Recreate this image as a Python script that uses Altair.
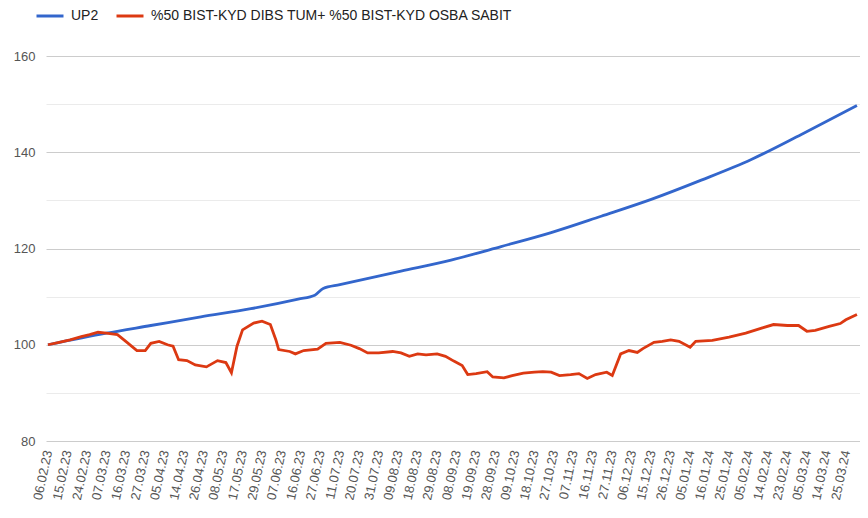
import altair as alt
import pandas as pd

tick_labels = ["06.02.23", "15.02.23", "24.02.23", "07.03.23", "16.03.23", "27.03.23",
               "05.04.23", "14.04.23", "26.04.23", "08.05.23", "17.05.23", "29.05.23",
               "07.06.23", "16.06.23", "27.06.23", "11.07.23", "20.07.23", "31.07.23",
               "09.08.23", "18.08.23", "29.08.23", "08.09.23", "19.09.23", "28.09.23",
               "09.10.23", "18.10.23", "27.10.23", "07.11.23", "16.11.23", "27.11.23",
               "06.12.23", "15.12.23", "26.12.23", "05.01.24", "16.01.24", "25.01.24",
               "05.02.24", "14.02.24", "23.02.24", "05.03.24", "14.03.24", "25.03.24"]

series_names = ["UP2", "%50 BIST-KYD DIBS TUM+ %50 BIST-KYD OSBA SABIT"]

# business-day index -> value
blue_idx = [0, 21, 37, 55, 73, 90, 96, 99, 105, 127, 145, 163, 181, 199, 217, 235, 253, 271, 291]
blue_val = [100, 102.4, 104, 105.8, 107.5, 109.5, 110.3, 111.7, 112.5, 115.3, 117.6, 120.4,
            123.3, 126.7, 130.2, 134.2, 138.5, 143.7, 149.7]

red_idx = [0, 4, 8, 12, 15, 18, 21, 25, 28, 32, 35, 37, 40, 43, 45, 47, 50, 53, 57, 61, 64, 66,
           68, 70, 74, 77, 80, 82, 83, 87, 89, 92, 97, 100, 105, 109, 112, 115, 119, 124, 127,
           130, 133, 136, 140, 143, 146, 149, 151, 154, 158, 160, 164, 167, 171, 175, 178, 181,
           184, 188, 191, 194, 197, 201, 203, 206, 209, 212, 214, 218, 221, 224, 227, 231, 233,
           239, 245, 251, 257, 261, 266, 270, 273, 276, 281, 285, 287, 291]
red_val = [100, 100.5, 101, 101.7, 102.1, 102.6, 102.4, 102.1, 100.7, 98.8, 98.8, 100.3, 100.7,
           100, 99.7, 96.9, 96.7, 95.8, 95.4, 96.7, 96.3, 94.2, 99.7, 103.1, 104.5, 104.9, 104.2,
           101, 99, 98.6, 98.1, 98.8, 99.1, 100.3, 100.5, 99.9, 99.2, 98.3, 98.3, 98.6, 98.3,
           97.6, 98.1, 97.9, 98.1, 97.6, 96.6, 95.7, 93.8, 94, 94.4, 93.3, 93.1, 93.6, 94.1,
           94.3, 94.4, 94.3, 93.6, 93.8, 94, 93, 93.8, 94.3, 93.6, 98.1, 98.8, 98.4, 99.2, 100.5,
           100.7, 101, 100.7, 99.5, 100.7, 100.9, 101.6, 102.4, 103.5, 104.2, 104, 104, 102.8,
           103, 103.8, 104.4, 105.2, 106.3]

df = pd.concat([
    pd.DataFrame({"idx": blue_idx, "value": blue_val, "series": series_names[0]}),
    pd.DataFrame({"idx": red_idx, "value": red_val, "series": series_names[1]}),
])

label_array = "[" + ",".join("'" + t + "'" for t in tick_labels) + "]"

FONT = "Liberation Sans"

x_enc = alt.X("idx:Q",
              scale=alt.Scale(domain=[-0.7, 292.1], nice=False, zero=False),
              axis=alt.Axis(values=[i * 7 for i in range(len(tick_labels))],
                            labelExpr=label_array + "[round(datum.value / 7)]",
                            labelAngle=-78, labelPadding=9, labelFlush=False,
                            labelOverlap=False, domain=False, ticks=False, grid=False,
                            title=None, labelFontSize=13, labelColor="#555555",
                            labelFont=FONT))
y_enc = alt.Y("value:Q",
              scale=alt.Scale(domain=[80, 160], nice=False, zero=False),
              axis=alt.Axis(values=list(range(80, 161, 10)),
                            labelExpr="datum.value % 20 === 0 ? datum.label : ''",
                            gridColor={"condition": {"test": "datum.value % 20 === 0",
                                                     "value": "#cccccc"},
                                       "value": "#ebebeb"},
                            domain=False, ticks=False, title=None, labelPadding=11,
                            labelFontSize=13, labelColor="#555555", labelFont=FONT))
c_enc = alt.Color("series:N",
                  scale=alt.Scale(domain=series_names, range=["#3366cc", "#dc3912"]),
                  legend=alt.Legend(title=None, orient="none", direction="horizontal",
                                    legendX=-11, legendY=-55, symbolType="stroke",
                                    symbolSize=729, symbolStrokeWidth=3, labelOffset=6,
                                    columnPadding=11, labelFontSize=14, labelLimit=0,
                                    labelColor="#222222", labelFont=FONT, padding=0))

base = alt.Chart(df).encode(x=x_enc, y=y_enc, color=c_enc, order=alt.Order("idx:Q"))

blue = base.transform_filter(alt.datum.series == series_names[0]).mark_line(
    strokeWidth=2.8, clip=True, interpolate="monotone")
red = base.transform_filter(alt.datum.series == series_names[1]).mark_line(
    strokeWidth=2.8, clip=True)

chart = alt.layer(blue, red).properties(
    width=814, height=385,
    autosize=alt.AutoSizeParams(type="none"),
    padding={"left": 38, "top": 48, "right": 0, "bottom": 68},
).configure_view(stroke=None)

chart.save("out.html", embed_options={"renderer": "svg", "actions": False})
